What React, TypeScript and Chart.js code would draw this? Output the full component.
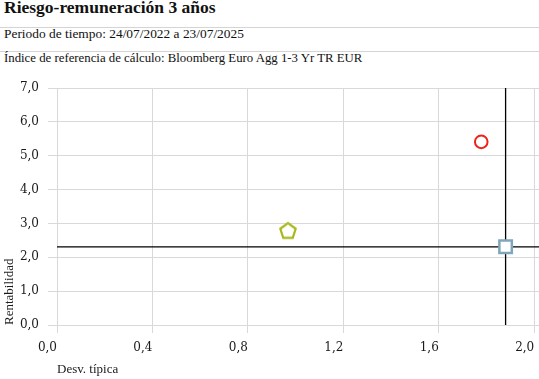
import React, { useEffect, useRef } from "react";
import { Chart, registerables } from "chart.js";

Chart.register(...registerables);

// ---- data ----
const titleText = "Riesgo-remuneración 3 años";
const periodText = "Periodo de tiempo: 24/07/2022 a 23/07/2025";
const benchText = "Índice de referencia de cálculo: Bloomberg Euro Agg 1-3 Yr TR EUR";
const xAxisTitle = "Desv. típica";
const yAxisTitle = "Rentabilidad";

const xTicks = [0, 0.4, 0.8, 1.2, 1.6, 2.0];
const yTicks = [0, 1, 2, 3, 4, 5, 6, 7];
const xRange = [0, 2.02];
const yRange = [0, 7];

const fundPoint = [{ x: 1.778, y: 5.41 }];
const categoryPoint = [{ x: 0.968, y: 2.77 }];
const benchmarkPoint = [{ x: 1.88, y: 2.31 }];

const SERIF = "'Liberation Serif', 'Times New Roman', serif";
const TICKFONT = "'DejaVu Serif', serif";

function makePentagon(color: string): HTMLCanvasElement {
  const c = document.createElement("canvas");
  const s = 22;
  c.width = s;
  c.height = s;
  const ctx = c.getContext("2d")!;
  const r = 8.1;
  const cx = s / 2;
  const cy = s / 2;
  ctx.beginPath();
  for (let i = 0; i < 5; i++) {
    const a = (-90 + 72 * i) * (Math.PI / 180);
    const px = cx + r * Math.cos(a);
    const py = cy + r * Math.sin(a);
    if (i === 0) ctx.moveTo(px, py);
    else ctx.lineTo(px, py);
  }
  ctx.closePath();
  ctx.fillStyle = "#ffffff";
  ctx.fill();
  ctx.lineWidth = 2.2;
  ctx.strokeStyle = color;
  ctx.stroke();
  return c;
}

const fmt = (v: number) => v.toFixed(1).replace(".", ",");

function RiskChart() {
  const ref = useRef<HTMLCanvasElement | null>(null);
  useEffect(() => {
    if (!ref.current) return;
    const bx = benchmarkPoint[0].x;
    const by = benchmarkPoint[0].y;
    const chart = new Chart(ref.current, {
      type: "scatter",
      data: {
        datasets: [
          {
            label: "Fondo",
            data: fundPoint,
            pointStyle: "circle",
            pointRadius: 6.3,
            pointBorderWidth: 2,
            pointBorderColor: "#ee2219",
            pointBackgroundColor: "#ffffff",
            order: 1,
          },
          {
            label: "Categoría",
            data: categoryPoint,
            pointStyle: makePentagon("#a8b81c"),
            pointRadius: 9,
            order: 1,
          },
          {
            label: "Índice",
            data: benchmarkPoint,
            pointStyle: "rect",
            pointRadius: 8.8,
            pointBorderWidth: 2.5,
            pointBorderColor: "#7fa6bb",
            pointBackgroundColor: "#ffffff",
            order: 0,
          },
          {
            type: "line",
            label: "h",
            data: [
              { x: xRange[0], y: by },
              { x: xRange[1], y: by },
            ],
            borderColor: "#000000",
            borderWidth: 1.3,
            pointRadius: 0,
            showLine: true,
            order: 5,
          },
          {
            type: "line",
            label: "v",
            data: [
              { x: bx, y: yRange[0] },
              { x: bx, y: yRange[1] },
            ],
            borderColor: "#000000",
            borderWidth: 1.3,
            pointRadius: 0,
            showLine: true,
            order: 5,
          },
        ],
      } as any,
      options: {
        responsive: false,
        animation: false,
        devicePixelRatio: 1,
        layout: { autoPadding: false, padding: { top: 16, right: 0, left: 0, bottom: 0 } },
        plugins: {
          legend: { display: false },
          tooltip: { enabled: false },
          title: { display: false },
        },
        scales: {
          x: {
            type: "linear",
            min: xRange[0],
            max: xRange[1],
            afterBuildTicks: (s: any) => {
              s.ticks = xTicks.map((v) => ({ value: v }));
            },
            afterFit: (s: any) => {
              s.height = 54;
              s.paddingLeft = 0;
              s.paddingRight = 0;
            },
            grid: { color: "#d9d9d9", lineWidth: 1, tickLength: 8 },
            border: { display: false },
            ticks: {
              align: "end",
              padding: 8,
              maxRotation: 0,
              autoSkip: false,
              color: "#1a1a1a",
              font: { family: TICKFONT, size: 12 },
              callback: (v: any) => fmt(Number(v)),
            },
            title: {
              display: true,
              text: xAxisTitle,
              align: "start",
              color: "#1a1a1a",
              font: { family: SERIF, size: 13 },
              padding: { top: 0, bottom: 2 },
            },
          },
          y: {
            type: "linear",
            min: yRange[0],
            max: yRange[1],
            afterBuildTicks: (s: any) => {
              s.ticks = yTicks.map((v) => ({ value: v }));
            },
            afterFit: (s: any) => {
              s.width = 57;
              s.paddingTop = 0;
              s.paddingBottom = 0;
            },
            grid: { color: "#d9d9d9", lineWidth: 1, tickLength: 9 },
            border: { display: false },
            ticks: {
              padding: 9,
              autoSkip: false,
              color: "#1a1a1a",
              font: { family: TICKFONT, size: 12 },
              callback: (v: any) => fmt(Number(v)),
            },
            title: {
              display: true,
              text: yAxisTitle,
              align: "start",
              color: "#1a1a1a",
              font: { family: SERIF, size: 13 },
              padding: { top: 2, bottom: 0 },
            },
          },
        },
      } as any,
    });
    return () => chart.destroy();
  }, []);
  return (
    <canvas
      ref={ref}
      width={539}
      height={307}
      style={{ position: "absolute", left: 0, top: 72, width: 539, height: 307 }}
    />
  );
}

export default function App() {
  return (
    <div
      style={{
        position: "absolute",
        left: 0,
        top: 0,
        width: 539,
        height: 379,
        background: "#ffffff",
        overflow: "hidden",
        fontFamily: SERIF,
        color: "#111111",
      }}
    >
      <div
        style={{
          position: "absolute",
          left: 4,
          top: -1,
          fontSize: 17.5,
          lineHeight: "17.5px",
          fontWeight: "bold",
          whiteSpace: "nowrap",
        }}
      >
        {titleText}
      </div>
      <div style={{ position: "absolute", left: 0, top: 27, width: 539, height: 1, background: "#d4d4d4" }} />
      <div
        style={{
          position: "absolute",
          left: 4,
          top: 27,
          fontSize: 13.4,
          lineHeight: "13px",
          whiteSpace: "nowrap",
        }}
      >
        {periodText}
      </div>
      <div style={{ position: "absolute", left: 0, top: 51, width: 539, height: 1, background: "#d4d4d4" }} />
      <div
        style={{
          position: "absolute",
          left: 4,
          top: 52,
          fontSize: 12.8,
          lineHeight: "13px",
          whiteSpace: "nowrap",
        }}
      >
        {benchText}
      </div>
      <RiskChart />
    </div>
  );
}
